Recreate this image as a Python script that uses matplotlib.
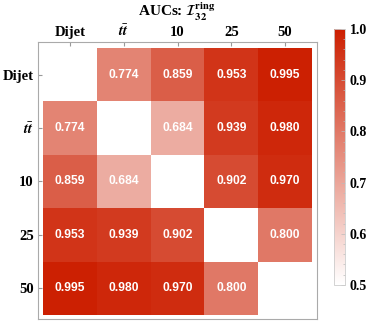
import numpy as np
import matplotlib
matplotlib.use("Agg")
import matplotlib.pyplot as plt
from matplotlib.colors import LinearSegmentedColormap
from matplotlib.ticker import MultipleLocator

labels = ["Dijet", r"$\mathbfit{t}\bar{\mathbfit{t}}$", "10", "25", "50"]
auc = [
    [np.nan, 0.774, 0.859, 0.953, 0.995],
    [0.774, np.nan, 0.684, 0.939, 0.980],
    [0.859, 0.684, np.nan, 0.902, 0.970],
    [0.953, 0.939, 0.902, np.nan, 0.800],
    [0.995, 0.980, 0.970, 0.800, np.nan],
]
vmin, vmax = 0.5, 1.0

plt.rcParams['mathtext.fontset'] = 'stix'
serif = dict(family='Liberation Serif', weight='bold')

cmap = LinearSegmentedColormap.from_list("wr", [(1, 1, 1), (0.80, 0.12, 0.0)])
cmap.set_bad((1, 1, 1, 0))

fig = plt.figure(figsize=(3.74, 3.22), dpi=100)
ax = fig.add_axes([0.1016, 0.0093, 0.746, 0.8603])
data = np.ma.masked_invalid(np.array(auc))
n = len(labels)
mesh = ax.pcolormesh(np.arange(n + 1) - 0.5, np.arange(n + 1) - 0.5, data,
                     cmap=cmap, vmin=vmin, vmax=vmax)
ax.set_xlim(-0.593, n - 0.5 + 0.093)
ax.set_ylim(n - 0.5 + 0.075, -0.612)

for i in range(n):
    for j in range(n):
        v = auc[i][j]
        if not np.isnan(v):
            ax.text(j, i, f"{v:.3f}", ha='center', va='center', color='white',
                    fontsize=8.7, family='Liberation Sans', weight='bold')

ax.xaxis.tick_top()
ax.set_xticks(range(n))
ax.set_yticks(range(n))
ax.set_xticklabels(labels, fontsize=10.5, **serif)
ax.set_yticklabels(labels, fontsize=10.5, **serif)
ax.tick_params(direction='in', length=3, color='#999999')
ax.tick_params(axis='x', pad=2)
ax.tick_params(axis='y', pad=3)
for s in ax.spines.values():
    s.set_color('#aaaaaa')
    s.set_linewidth(0.8)

fig.text(0.472, 0.962, r"AUCs: $\mathcal{I}_{\mathbf{32}}^{\mathbf{ring}}$", ha='center', va='center',
         fontsize=11, **serif)

cax = fig.add_axes([0.893, 0.115, 0.0294, 0.795])
cb = fig.colorbar(mesh, cax=cax)
cb.set_ticks([0.5, 0.6, 0.7, 0.8, 0.9, 1.0])
cb.ax.yaxis.set_minor_locator(MultipleLocator(0.02))
cb.ax.set_yticklabels(["0.5", "0.6", "0.7", "0.8", "0.9", "1.0"], fontsize=10, **serif)
cb.ax.tick_params(which='both', direction='in', color='#bbbbbb', length=3, width=0.5)
cb.ax.tick_params(which='minor', length=1.5)
cb.outline.set_edgecolor('#cccccc')
cb.outline.set_linewidth(0.6)

fig.savefig("out.png", dpi=100)
